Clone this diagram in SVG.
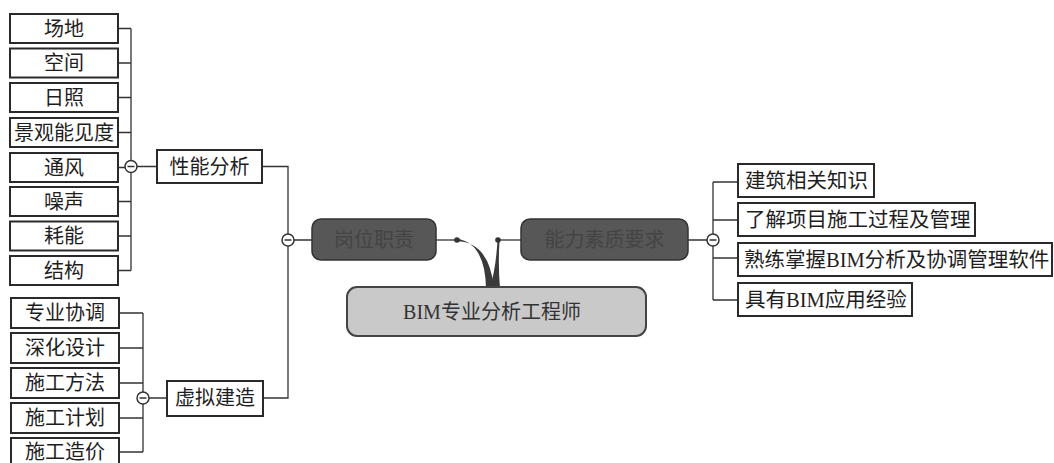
<svg xmlns="http://www.w3.org/2000/svg" width="1054" height="463" viewBox="0 0 1054 463">
<style>
.box{fill:#fff;stroke:#2a2a2a;stroke-width:2}
.t{font-family:"Liberation Serif","Noto Sans CJK SC",serif;font-size:20px;fill:#1e1e1e;text-anchor:middle;dominant-baseline:central}
.tl{font-family:"Liberation Serif","Noto Sans CJK SC",serif;font-size:20.5px;fill:#1e1e1e;dominant-baseline:central}
.ln{fill:none;stroke:#333;stroke-width:1.3}
.tog{fill:#fff;stroke:#333;stroke-width:1.5}
.minus{stroke:#333;stroke-width:1.5}
.dark{fill:#575757;stroke:#333;stroke-width:1.5}
.dt{font-family:"Liberation Serif","Noto Sans CJK SC",serif;font-size:20px;fill:#444;text-anchor:middle;dominant-baseline:central}
</style>
<rect width="1054" height="463" fill="#fff"/>
<g id="connectors">
  <path class="ln" d="M118,28.5H131M118,63H131M118,97.5H131M118,132.5H131M118,167.5H125M118,201.5H131M118,236H131M118,270.5H131M131,28.5V160.5M131,172.5V270.5M137,166.5H157"/>
  <path class="ln" d="M119,313H143M119,348H143M119,383H143M119,418H143M119,452H143M143,313V392M143,404V452M149,398H167"/>
  <path class="ln" d="M262,166.5H288V234M288,246V398H263M294,240H312"/>
  <path class="ln" d="M436,240H457"/>
  <path d="M457,238.8 Q485,243 486,288 L494,288 Q489,242 457,241.2 Z" fill="#3a3a3a"/>
  <circle cx="457" cy="240" r="2.8" fill="#333"/>
  <path d="M497.5,240 Q496,268 490,288 L500,288 Q498,266 499.5,241 Z" fill="#3a3a3a"/>
  <path class="ln" d="M498,240H521"/>
  <circle cx="498" cy="240" r="2.8" fill="#333"/>
  <path class="ln" d="M688,240H707M713,182V234M713,246V300M713,182H738M713,220H738M713,258H738M713,300H738"/>
</g>
<g id="toggles">
  <circle class="tog" cx="131" cy="166.5" r="6"/><path class="minus" d="M127.5,166.5H134.5"/>
  <circle class="tog" cx="143" cy="398" r="6"/><path class="minus" d="M139.5,398H146.5"/>
  <circle class="tog" cx="288" cy="240" r="6"/><path class="minus" d="M284.5,240H291.5"/>
  <circle class="tog" cx="713" cy="240" r="6"/><path class="minus" d="M709.5,240H716.5"/>
</g>
<g id="center"><rect x="347" y="287" width="299" height="49" rx="10" fill="#c9c9c9" stroke="#444" stroke-width="2"/><text class="t" x="492" y="312" style="fill:#333">BIM专业分析工程师</text></g>
<g id="gangwei"><rect class="dark" x="312" y="219" width="124" height="41" rx="9"/><text class="dt" x="374" y="240">岗位职责</text></g>
<g id="nengli"><rect class="dark" x="521" y="219" width="167" height="41" rx="9"/><text class="dt" x="604.5" y="240">能力素质要求</text></g>
<g id="xingneng"><rect class="box" x="157" y="150" width="105" height="33"/><text class="t" x="209.5" y="166.5">性能分析</text></g>
<g id="xuni"><rect class="box" x="167" y="381" width="96" height="35"/><text class="t" x="215" y="398">虚拟建造</text></g>
<g id="changdi"><rect class="box" x="10" y="14" width="108" height="29"/><text class="t" x="64" y="28.5">场地</text></g>
<g id="kongjian"><rect class="box" x="10" y="48.5" width="108" height="29"/><text class="t" x="64" y="63">空间</text></g>
<g id="rizhao"><rect class="box" x="10" y="83" width="108" height="29"/><text class="t" x="64" y="97.5">日照</text></g>
<g id="jingguan"><rect class="box" x="10" y="118" width="108" height="29"/><text class="t" x="64" y="132.5">景观能见度</text></g>
<g id="tongfeng"><rect class="box" x="10" y="153" width="108" height="29"/><text class="t" x="64" y="167.5">通风</text></g>
<g id="zaosheng"><rect class="box" x="10" y="187" width="108" height="29"/><text class="t" x="64" y="201.5">噪声</text></g>
<g id="haoneng"><rect class="box" x="10" y="221.5" width="108" height="29"/><text class="t" x="64" y="236">耗能</text></g>
<g id="jiegou"><rect class="box" x="10" y="256" width="108" height="29"/><text class="t" x="64" y="270.5">结构</text></g>
<g id="zhuanye"><rect class="box" x="11" y="298" width="108" height="30"/><text class="t" x="65" y="313">专业协调</text></g>
<g id="shenhua"><rect class="box" x="11" y="333" width="108" height="30"/><text class="t" x="65" y="348">深化设计</text></g>
<g id="fangfa"><rect class="box" x="11" y="368" width="108" height="30"/><text class="t" x="65" y="383">施工方法</text></g>
<g id="jihua"><rect class="box" x="11" y="403" width="108" height="30"/><text class="t" x="65" y="418">施工计划</text></g>
<g id="zaojia"><rect class="box" x="11" y="438" width="108" height="30"/><text class="t" x="65" y="452">施工造价</text></g>
<g id="jianzhu"><rect class="box" x="738" y="164" width="136" height="33"/><text class="tl" x="745" y="181">建筑相关知识</text></g>
<g id="liaojie"><rect class="box" x="738" y="203" width="237" height="33"/><text class="tl" x="745" y="219.5">了解项目施工过程及管理</text></g>
<g id="shulian"><rect class="box" x="738" y="243" width="314" height="33"/><text class="tl" x="744" y="259.5">熟练掌握BIM分析及协调管理软件</text></g>
<g id="juyou"><rect class="box" x="738" y="283" width="174" height="33"/><text class="tl" x="745" y="299.5">具有BIM应用经验</text></g>
</svg>
